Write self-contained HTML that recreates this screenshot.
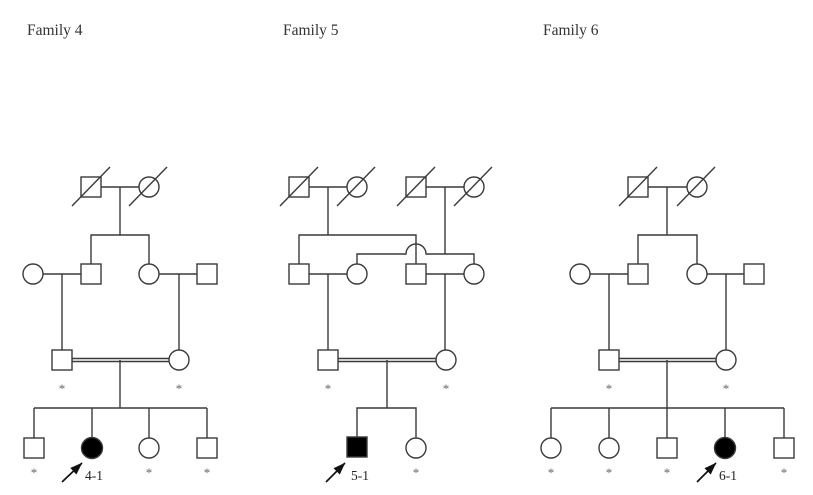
<!DOCTYPE html>
<html>
<head>
<meta charset="utf-8">
<style>
html,body{margin:0;padding:0;background:#fff;}
svg{display:block;}
.t{font-family:"Liberation Serif",serif;font-size:15.5px;fill:#333;}
.l{font-family:"Liberation Serif",serif;font-size:13.5px;fill:#222;}
.a{font-family:"Liberation Serif",serif;font-size:13px;fill:#666;}
</style>
</head>
<body>
<svg width="813" height="495" viewBox="0 0 813 495" xmlns="http://www.w3.org/2000/svg">
<defs>
<marker id="ah" markerWidth="13" markerHeight="10" refX="12" refY="4.5" orient="auto" markerUnits="userSpaceOnUse">
<path d="M0,0 L12.5,4.5 L0,9 z" fill="#111"/>
</marker>
</defs>
<rect width="813" height="495" fill="#fff"/>
<text class="t" x="27" y="35">Family 4</text>
<text class="t" x="283" y="35">Family 5</text>
<text class="t" x="543" y="35">Family 6</text>

<g stroke="#3a3a3a" stroke-width="1.4" fill="none">
<!-- ===== Family 4 ===== -->
<rect x="81" y="177" width="20" height="20" fill="#fff"/>
<circle cx="149" cy="187" r="10" fill="#fff"/>
<line x1="72" y1="206" x2="110" y2="167"/>
<line x1="129" y1="206" x2="167" y2="167"/>
<line x1="101" y1="187" x2="139" y2="187"/>
<line x1="120" y1="187" x2="120" y2="235"/>
<polyline points="91,264 91,235 149,235 149,264"/>
<circle cx="33" cy="274" r="10" fill="#fff"/>
<rect x="81" y="264" width="20" height="20" fill="#fff"/>
<circle cx="149" cy="274" r="10" fill="#fff"/>
<rect x="197" y="264" width="20" height="20" fill="#fff"/>
<line x1="43" y1="274" x2="81" y2="274"/>
<line x1="159" y1="274" x2="197" y2="274"/>
<line x1="62" y1="274" x2="62" y2="350"/>
<line x1="179" y1="274" x2="179" y2="350"/>
<rect x="52" y="350" width="20" height="20" fill="#fff"/>
<circle cx="179" cy="360" r="10" fill="#fff"/>
<line x1="72" y1="358.5" x2="169" y2="358.5"/>
<line x1="72" y1="361.5" x2="169" y2="361.5"/>
<line x1="120" y1="360" x2="120" y2="408"/>
<line x1="34" y1="408" x2="207" y2="408"/>
<line x1="34" y1="408" x2="34" y2="438"/>
<line x1="92" y1="408" x2="92" y2="438"/>
<line x1="149" y1="408" x2="149" y2="438"/>
<line x1="207" y1="408" x2="207" y2="438"/>
<rect x="24" y="438" width="20" height="20" fill="#fff"/>
<circle cx="92" cy="448" r="10.5" fill="#000"/>
<circle cx="149" cy="448" r="10" fill="#fff"/>
<rect x="197" y="438" width="20" height="20" fill="#fff"/>

<!-- ===== Family 5 ===== -->
<rect x="289" y="177" width="20" height="20" fill="#fff"/>
<circle cx="357" cy="187" r="10" fill="#fff"/>
<line x1="280" y1="206" x2="318" y2="167"/>
<line x1="337" y1="206" x2="375" y2="167"/>
<rect x="406" y="177" width="20" height="20" fill="#fff"/>
<circle cx="474" cy="187" r="10" fill="#fff"/>
<line x1="397" y1="206" x2="435" y2="167"/>
<line x1="454" y1="206" x2="492" y2="167"/>
<line x1="309" y1="187" x2="347" y2="187"/>
<line x1="328" y1="187" x2="328" y2="235"/>
<line x1="426" y1="187" x2="464" y2="187"/>
<line x1="445" y1="187" x2="445" y2="254"/>
<polyline points="299,264 299,235 416,235 416,264"/>
<path d="M357,264 L357,254 L406,254 A10,10 0 0 1 426,254 L474,254 L474,264"/>
<rect x="289" y="264" width="20" height="20" fill="#fff"/>
<circle cx="357" cy="274" r="10" fill="#fff"/>
<rect x="406" y="264" width="20" height="20" fill="#fff"/>
<circle cx="474" cy="274" r="10" fill="#fff"/>
<line x1="309" y1="274" x2="347" y2="274"/>
<line x1="426" y1="274" x2="464" y2="274"/>
<line x1="328" y1="274" x2="328" y2="350"/>
<line x1="445" y1="274" x2="445" y2="350"/>
<rect x="318" y="350" width="20" height="20" fill="#fff"/>
<circle cx="446" cy="360" r="10" fill="#fff"/>
<line x1="338" y1="358.5" x2="436" y2="358.5"/>
<line x1="338" y1="361.5" x2="436" y2="361.5"/>
<line x1="387" y1="360" x2="387" y2="408"/>
<polyline points="357,437 357,408 416,408 416,438"/>
<rect x="347" y="437" width="20" height="20" fill="#000"/>
<circle cx="416" cy="448" r="10" fill="#fff"/>

<!-- ===== Family 6 ===== -->
<rect x="628" y="177" width="20" height="20" fill="#fff"/>
<circle cx="697" cy="187" r="10" fill="#fff"/>
<line x1="619" y1="206" x2="657" y2="167"/>
<line x1="677" y1="206" x2="715" y2="167"/>
<line x1="648" y1="187" x2="687" y2="187"/>
<line x1="667" y1="187" x2="667" y2="235"/>
<polyline points="638,264 638,235 697,235 697,264"/>
<circle cx="580" cy="274" r="10" fill="#fff"/>
<rect x="628" y="264" width="20" height="20" fill="#fff"/>
<circle cx="697" cy="274" r="10" fill="#fff"/>
<rect x="744" y="264" width="20" height="20" fill="#fff"/>
<line x1="590" y1="274" x2="628" y2="274"/>
<line x1="707" y1="274" x2="744" y2="274"/>
<line x1="609" y1="274" x2="609" y2="350"/>
<line x1="726" y1="274" x2="726" y2="350"/>
<rect x="599" y="350" width="20" height="20" fill="#fff"/>
<circle cx="726" cy="360" r="10" fill="#fff"/>
<line x1="619" y1="358.5" x2="716" y2="358.5"/>
<line x1="619" y1="361.5" x2="716" y2="361.5"/>
<line x1="667" y1="360" x2="667" y2="408"/>
<line x1="551" y1="408" x2="784" y2="408"/>
<line x1="551" y1="408" x2="551" y2="438"/>
<line x1="609" y1="408" x2="609" y2="438"/>
<line x1="667" y1="408" x2="667" y2="438"/>
<line x1="725" y1="408" x2="725" y2="438"/>
<line x1="784" y1="408" x2="784" y2="438"/>
<circle cx="551" cy="448" r="10" fill="#fff"/>
<circle cx="609" cy="448" r="10" fill="#fff"/>
<rect x="657" y="438" width="20" height="20" fill="#fff"/>
<circle cx="725" cy="448" r="10.5" fill="#000"/>
<rect x="774" y="438" width="20" height="20" fill="#fff"/>
</g>

<!-- arrows -->
<g stroke="#111" stroke-width="1.7">
<line x1="62" y1="482" x2="82" y2="463" marker-end="url(#ah)"/>
<line x1="326" y1="482" x2="345" y2="463" marker-end="url(#ah)"/>
<line x1="697" y1="482" x2="716" y2="463" marker-end="url(#ah)"/>
</g>
<text class="l" x="85" y="480">4-1</text>
<text class="l" x="351" y="480">5-1</text>
<text class="l" x="719" y="480">6-1</text>

<!-- asterisks -->
<g class="a" text-anchor="middle">
<text x="62" y="393">*</text>
<text x="179" y="393">*</text>
<text x="34" y="477">*</text>
<text x="149" y="477">*</text>
<text x="207" y="477">*</text>
<text x="328" y="393">*</text>
<text x="446" y="393">*</text>
<text x="416" y="477">*</text>
<text x="609" y="393">*</text>
<text x="726" y="393">*</text>
<text x="551" y="477">*</text>
<text x="609" y="477">*</text>
<text x="667" y="477">*</text>
<text x="784" y="477">*</text>
</g>
</svg>
</body>
</html>
